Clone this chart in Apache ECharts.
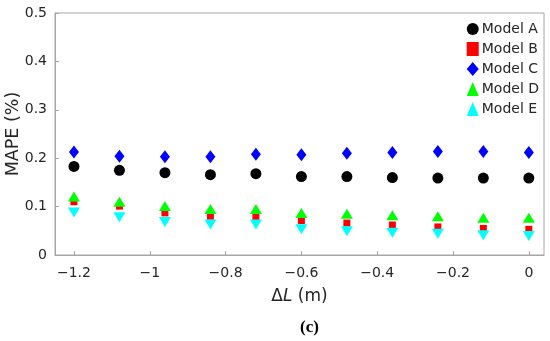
<!DOCTYPE html>
<html>
<head>
<meta charset="utf-8">
<script src="https://cdn.jsdelivr.net/npm/echarts@6/dist/echarts.min.js"></script>
<style>html,body{margin:0;padding:0;background:#fff;}#c{width:550px;height:341px;}</style>
</head>
<body>
<div id="c"></div>
<script>
const xValues = [-1.2, -1.08, -0.96, -0.84, -0.72, -0.6, -0.48, -0.36, -0.24, -0.12, 0];
const modelA = [0.183, 0.175, 0.170, 0.166, 0.168, 0.162, 0.162, 0.160, 0.159, 0.159, 0.159];
const modelB = [0.110, 0.101, 0.087, 0.080, 0.079, 0.071, 0.066, 0.062, 0.058, 0.055, 0.053];
const modelC = [0.213, 0.204, 0.203, 0.203, 0.208, 0.207, 0.210, 0.212, 0.214, 0.214, 0.212];
const modelD = [0.121, 0.110, 0.101, 0.095, 0.095, 0.087, 0.085, 0.082, 0.080, 0.077, 0.077];
const modelE = [0.088, 0.078, 0.068, 0.063, 0.063, 0.053, 0.049, 0.046, 0.044, 0.041, 0.039];
const xTicks = [-1.2, -1, -0.8, -0.6, -0.4, -0.2, 0];
const seriesNames = ['Model A', 'Model B', 'Model C', 'Model D', 'Model E'];

function pairs(ys) { return xValues.map((x, i) => [x, ys[i]]); }
const fmt = v => (v < 0 ? '\u2212' + String(Math.abs(Math.round(v * 10) / 10)) : String(Math.round(v * 10) / 10));

const chart = echarts.init(document.getElementById('c'));
const axisColor = '#a6a6a6';
const textColor = '#262626';
const ff = '"DejaVu Sans", sans-serif';
chart.setOption({
  animation: false,
  textStyle: { fontFamily: ff },
  grid: { left: 55, right: 6, top: 13, bottom: 86, show: true, borderColor: axisColor, borderWidth: 1, containLabel: false, outerBoundsMode: 'none' },
  legend: {
    orient: 'vertical', right: 6, top: 17, itemGap: 6, itemWidth: 12, itemHeight: 14,
    data: seriesNames,
    textStyle: { fontSize: 14, fontFamily: ff, color: textColor, padding: [0, 0, 0, -2] }
  },
  xAxis: {
    type: 'value', min: -1.25, max: 0.04,
    axisLine: { show: true, onZero: false, lineStyle: { color: axisColor } },
    axisTick: { show: true, inside: true, length: 4, lineStyle: { color: axisColor }, customValues: xTicks },
    axisLabel: { color: textColor, fontSize: 14, fontFamily: ff, margin: 11, customValues: xTicks, formatter: fmt },
    splitLine: { show: false },
    name: '{n|\u0394}{i|L}{n| (m)}', nameLocation: 'middle', nameGap: 33, nameMoveOverlap: false,
    nameTextStyle: { rich: { n: { fontSize: 17, fontFamily: ff, color: textColor }, i: { fontSize: 17, fontFamily: ff, fontStyle: 'italic', color: textColor } } }
  },
  yAxis: {
    type: 'value', min: 0, max: 0.5, interval: 0.1,
    axisLine: { show: true, onZero: false, lineStyle: { color: axisColor } },
    axisTick: { show: true, inside: true, length: 4, lineStyle: { color: axisColor } },
    axisLabel: { color: textColor, fontSize: 14, fontFamily: ff, margin: 8, formatter: fmt },
    splitLine: { show: false },
    name: 'MAPE (%)', nameLocation: 'middle', nameGap: 33, nameMoveOverlap: false,
    nameTextStyle: { fontSize: 17.5, fontFamily: ff, color: textColor }
  },
  graphic: [{
    type: 'text', left: 300, top: 319,
    style: { text: '(c)', font: 'bold 17px "Liberation Serif", "DejaVu Serif", serif', fill: '#000' }
  }],
  series: [
    { name: 'Model A', type: 'scatter', data: pairs(modelA), symbol: 'circle', symbolSize: 11, itemStyle: { color: '#000000', opacity: 1 } },
    { name: 'Model B', type: 'scatter', data: pairs(modelB), symbol: 'rect', symbolSize: 7, itemStyle: { color: '#ff0000', opacity: 1 } },
    { name: 'Model C', type: 'scatter', data: pairs(modelC), symbol: 'diamond', symbolSize: [10, 13], itemStyle: { color: '#0000ff', opacity: 1 } },
    { name: 'Model D', type: 'scatter', data: pairs(modelD), symbol: 'triangle', symbolSize: [12, 10], itemStyle: { color: '#00ff00', opacity: 1 } },
    { name: 'Model E', type: 'scatter', data: pairs(modelE), symbol: 'triangle', symbolRotate: 180, symbolSize: [12, 10], itemStyle: { color: '#00ffff', opacity: 1 } }
  ]
});
</script>
</body>
</html>
